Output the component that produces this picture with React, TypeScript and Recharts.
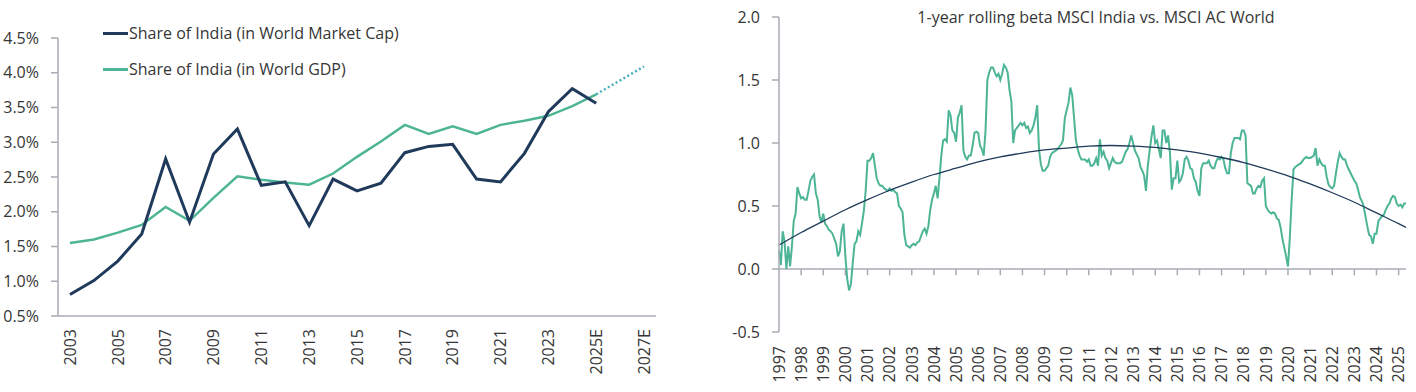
import React from "react";
import { LineChart, Line, XAxis, YAxis, Legend, ReferenceLine } from "recharts";

const FONT = "'Open Sans', 'DejaVu Sans', sans-serif";
const TEXT = "#363636";
const AXIS = "#a9abb5";
const NAVY = "#1f3a5a";
const TEAL = "#4db596";
const DOTS = "#46b1bc";

// ---- left chart: India's share of world market cap / GDP (%)
const YEARS = [2003, 2004, 2005, 2006, 2007, 2008, 2009, 2010, 2011, 2012, 2013, 2014, 2015, 2016, 2017, 2018, 2019, 2020, 2021, 2022, 2023, 2024, 2025, 2026, 2027];
const MARKET_CAP = [0.81, 1.01, 1.29, 1.68, 2.76, 1.85, 2.83, 3.19, 2.38, 2.43, 1.8, 2.47, 2.3, 2.41, 2.85, 2.94, 2.97, 2.47, 2.43, 2.84, 3.44, 3.77, 3.56];
const GDP = [1.55, 1.6, 1.7, 1.81, 2.07, 1.87, 2.2, 2.51, 2.46, 2.42, 2.39, 2.55, 2.79, 3.01, 3.25, 3.12, 3.23, 3.12, 3.25, 3.31, 3.38, 3.52, 3.69];
const GDP_PROJ_YEARS = [2025, 2026, 2027];
const GDP_PROJ = [3.69, 3.89, 4.09];
const LEFT_TICKS = [2003, 2005, 2007, 2009, 2011, 2013, 2015, 2017, 2019, 2021, 2023, 2025, 2027];
const LEFT_TICK_LABELS = ["2003", "2005", "2007", "2009", "2011", "2013", "2015", "2017", "2019", "2021", "2023", "2025E", "2027E"];
const PCT_TICKS = [0.5, 1, 1.5, 2, 2.5, 3, 3.5, 4, 4.5];

// ---- right chart: 1-year rolling beta, monthly readings
const BETA_1997 = [0.15, 0.03, 0.3, 0.22, 0.0, 0.18, 0.02, 0.18, 0.38, 0.44, 0.65, 0.6];
const BETA_1998 = [0.56, 0.57, 0.55, 0.55, 0.62, 0.7, 0.73, 0.75, 0.6, 0.55, 0.42, 0.37];
const BETA_1999 = [0.44, 0.36, 0.34, 0.31, 0.3, 0.28, 0.24, 0.2, 0.1, 0.14, 0.3, 0.36];
const BETA_2000 = [0.1, -0.08, -0.17, -0.12, 0.05, 0.2, 0.22, 0.3, 0.27, 0.36, 0.46, 0.62];
const BETA_2001 = [0.86, 0.86, 0.88, 0.92, 0.82, 0.72, 0.68, 0.66, 0.66, 0.64, 0.63, 0.62];
const BETA_2002 = [0.64, 0.62, 0.63, 0.61, 0.6, 0.5, 0.48, 0.45, 0.27, 0.19, 0.18, 0.17];
const BETA_2003 = [0.19, 0.2, 0.19, 0.21, 0.22, 0.26, 0.3, 0.32, 0.28, 0.34, 0.47, 0.55];
const BETA_2004 = [0.6, 0.66, 0.56, 0.72, 0.9, 1.02, 1.03, 1.01, 1.26, 1.22, 1.1, 1.08];
const BETA_2005 = [1.01, 1.2, 1.24, 1.3, 0.94, 0.89, 0.87, 0.9, 0.9, 0.98, 1.08, 1.09];
const BETA_2006 = [1.08, 0.98, 0.95, 0.9, 1.1, 1.5, 1.56, 1.6, 1.6, 1.56, 1.53, 1.55];
const BETA_2007 = [1.5, 1.55, 1.62, 1.6, 1.56, 1.42, 1.33, 1.0, 1.1, 1.12, 1.14, 1.16];
const BETA_2008 = [1.14, 1.16, 1.12, 1.13, 1.08, 1.1, 1.14, 1.2, 1.3, 0.95, 0.83, 0.78];
const BETA_2009 = [0.78, 0.8, 0.82, 0.89, 0.92, 0.93, 0.94, 0.95, 0.97, 0.99, 1.02, 1.2];
const BETA_2010 = [1.26, 1.32, 1.44, 1.38, 1.2, 1.02, 0.95, 0.9, 0.87, 0.87, 0.87, 0.85];
const BETA_2011 = [0.87, 0.82, 0.82, 0.84, 0.88, 0.82, 1.03, 0.9, 0.93, 0.88, 0.86, 0.8];
const BETA_2012 = [0.84, 0.88, 0.85, 0.84, 0.84, 0.84, 0.85, 0.89, 0.93, 0.95, 1.0, 1.06];
const BETA_2013 = [1.0, 0.94, 0.91, 0.88, 0.81, 0.78, 0.74, 0.62, 0.82, 0.94, 1.05, 1.14];
const BETA_2014 = [1.0, 1.02, 0.95, 0.88, 1.1, 1.1, 1.0, 1.06, 0.92, 0.63, 0.72, 0.72];
const BETA_2015 = [0.86, 0.69, 0.71, 0.76, 0.87, 0.89, 0.86, 0.8, 0.79, 0.72, 0.69, 0.62];
const BETA_2016 = [0.58, 0.8, 0.84, 0.84, 0.84, 0.86, 0.82, 0.8, 0.8, 0.85, 0.88, 0.87];
const BETA_2017 = [0.89, 0.87, 0.8, 0.76, 0.76, 0.92, 1.0, 1.04, 1.04, 1.04, 1.03, 1.1];
const BETA_2018 = [1.1, 1.06, 0.68, 0.67, 0.66, 0.6, 0.6, 0.64, 0.66, 0.65, 0.7, 0.72];
const BETA_2019 = [0.5, 0.47, 0.45, 0.44, 0.45, 0.44, 0.4, 0.39, 0.33, 0.24, 0.17, 0.1];
const BETA_2020 = [0.02, 0.25, 0.55, 0.79, 0.81, 0.82, 0.83, 0.84, 0.86, 0.88, 0.89, 0.88];
const BETA_2021 = [0.88, 0.89, 0.9, 0.96, 0.82, 0.87, 0.84, 0.82, 0.82, 0.73, 0.67, 0.65];
const BETA_2022 = [0.64, 0.66, 0.76, 0.85, 0.92, 0.89, 0.87, 0.87, 0.82, 0.79, 0.76, 0.73];
const BETA_2023 = [0.7, 0.68, 0.63, 0.57, 0.54, 0.5, 0.42, 0.34, 0.27, 0.26, 0.2, 0.28];
const BETA_2024 = [0.28, 0.38, 0.4, 0.42, 0.43, 0.47, 0.5, 0.52, 0.56, 0.58, 0.57, 0.52];
const BETA_2025 = [0.5, 0.51, 0.49, 0.52];

const BETA_YEARS = [
  BETA_1997, BETA_1998, BETA_1999, BETA_2000, BETA_2001, BETA_2002, BETA_2003, BETA_2004,
  BETA_2005, BETA_2006, BETA_2007, BETA_2008, BETA_2009, BETA_2010, BETA_2011, BETA_2012,
  BETA_2013, BETA_2014, BETA_2015, BETA_2016, BETA_2017, BETA_2018, BETA_2019, BETA_2020,
  BETA_2021, BETA_2022, BETA_2023, BETA_2024, BETA_2025,
];
// fitted trend, read at the start of each year, plus the last observation
const TREND = [0.19, 0.29, 0.38, 0.47, 0.55, 0.625, 0.69, 0.75, 0.8, 0.85, 0.89, 0.92, 0.945, 0.96, 0.975, 0.98, 0.975, 0.965, 0.945, 0.92, 0.885, 0.845, 0.795, 0.74, 0.675, 0.605, 0.53, 0.445, 0.36];
const TREND_END = 0.33;
const FIRST_YEAR = 1997;
const RIGHT_TICKS = [1997, 1998, 1999, 2000, 2001, 2002, 2003, 2004, 2005, 2006, 2007, 2008, 2009, 2010, 2011, 2012, 2013, 2014, 2015, 2016, 2017, 2018, 2019, 2020, 2021, 2022, 2023, 2024, 2025];
const BETA_TICKS = [-0.5, 0, 0.5, 1, 1.5, 2];

const shareData = YEARS.map((year, i) => {
  const p = GDP_PROJ_YEARS.indexOf(year);
  return {
    year,
    mcap: i < MARKET_CAP.length ? MARKET_CAP[i] : null,
    gdp: i < GDP.length ? GDP[i] : null,
    proj: p >= 0 ? GDP_PROJ[p] : null,
  };
});

const betaData: { t: number; beta: number; trend: number | null }[] = [];
BETA_YEARS.forEach((vals, yi) => {
  vals.forEach((v, m) => {
    betaData.push({ t: FIRST_YEAR + yi + m / 12, beta: v, trend: m === 0 ? TREND[yi] : null });
  });
});
betaData.push({
  t: betaData[betaData.length - 1].t + 1 / 12,
  beta: BETA_2025[BETA_2025.length - 1],
  trend: TREND_END,
});
betaData[betaData.length - 2].beta = betaData[betaData.length - 2].beta;

function RotatedTick(props: any) {
  const { x, y, payload, offset, labels, ticks } = props;
  const idx = ticks ? ticks.indexOf(payload.value) : -1;
  const label = labels && idx >= 0 ? labels[idx] : String(payload.value);
  const ty = y + offset;
  return (
    <text
      x={x}
      y={ty}
      transform={`rotate(-90, ${x}, ${ty})`}
      textAnchor="end"
      dy="0.36em"
      fill={TEXT}
      fontSize={16}
      fontFamily={FONT}
    >
      {label}
    </text>
  );
}

function ShareLegend() {
  const items = [
    { name: "Share of India (in World Market Cap)", color: NAVY },
    { name: "Share of India (in World GDP)", color: TEAL },
  ];
  return (
    <div style={{ fontFamily: FONT, fontSize: 16, color: TEXT }}>
      {items.map((it) => (
        <div key={it.name} style={{ display: "flex", alignItems: "center", height: 36 }}>
          <span style={{ display: "inline-block", width: 25, height: 3, background: it.color }} />
          <span style={{ marginLeft: 1 }}>{it.name}</span>
        </div>
      ))}
    </div>
  );
}

function ShareChart() {
  return (
    <LineChart width={680} height={392} data={shareData} margin={{ top: 38, right: 24, bottom: 0, left: 0 }}>
      <XAxis
        dataKey="year"
        type="number"
        domain={[2002.5, 2027.5]}
        ticks={LEFT_TICKS}
        interval={0}
        height={76}
        axisLine={{ stroke: AXIS, strokeWidth: 1.5 }}
        tickLine={false}
        tickSize={0}
        tickMargin={0}
        tick={(p: any) => <RotatedTick {...p} offset={13} labels={LEFT_TICK_LABELS} ticks={LEFT_TICKS} />}
      />
      <YAxis
        type="number"
        domain={[0.5, 4.5]}
        ticks={PCT_TICKS}
        interval={0}
        width={58}
        axisLine={{ stroke: AXIS, strokeWidth: 1.5 }}
        tickLine={{ stroke: AXIS, strokeWidth: 1.5 }}
        tickSize={7}
        tickMargin={12}
        tickFormatter={(v: number) => `${v.toFixed(1)}%`}
        tick={{ fill: TEXT, fontSize: 16, fontFamily: FONT }}
      />
      <Legend
        layout="vertical"
        align="center"
        verticalAlign="middle"
        content={() => <ShareLegend />}
        wrapperStyle={{ left: 103, top: 15, width: 340 }}
      />
      <Line dataKey="proj" stroke={DOTS} strokeWidth={2.5} strokeDasharray="2 2.5" dot={false} isAnimationActive={false} />
      <Line dataKey="gdp" stroke={TEAL} strokeWidth={2.5} dot={false} isAnimationActive={false} />
      <Line dataKey="mcap" stroke={NAVY} strokeWidth={3} dot={false} isAnimationActive={false} />
    </LineChart>
  );
}

function BetaChart() {
  return (
    <LineChart width={716} height={392} data={betaData} margin={{ top: 17, right: 10, bottom: 0, left: 0 }}>
      <XAxis
        dataKey="t"
        type="number"
        domain={[1997, betaData[betaData.length - 1].t]}
        ticks={RIGHT_TICKS}
        interval={0}
        height={60}
        axisLine={false}
        tickLine={false}
        tickSize={0}
        tickMargin={0}
        tick={(p: any) => <RotatedTick {...p} offset={14} />}
      />
      <YAxis
        type="number"
        domain={[-0.5, 2]}
        ticks={BETA_TICKS}
        interval={0}
        width={79}
        axisLine={{ stroke: AXIS, strokeWidth: 1.5 }}
        tickLine={{ stroke: AXIS, strokeWidth: 1.5 }}
        tickSize={7}
        tickMargin={12}
        tickFormatter={(v: number) => v.toFixed(1)}
        tick={{ fill: TEXT, fontSize: 16, fontFamily: FONT }}
      />
      <ReferenceLine y={0} stroke={AXIS} strokeWidth={1.5} />
      {RIGHT_TICKS.slice(1).map((yr) => (
        <ReferenceLine
          key={yr}
          segment={[{ x: yr, y: 0 }, { x: yr, y: -0.05 }]}
          stroke={AXIS}
          strokeWidth={1.5}
        />
      ))}
      <Line dataKey="beta" type="linear" stroke={TEAL} strokeWidth={2} dot={false} isAnimationActive={false} />
      <Line dataKey="trend" type="monotone" connectNulls stroke={NAVY} strokeWidth={1.3} dot={false} isAnimationActive={false} />
    </LineChart>
  );
}

export default function App() {
  return (
    <div style={{ position: "fixed", left: 0, top: 0, width: 1416, height: 392, background: "#fff", fontFamily: FONT }}>
      <div style={{ position: "absolute", left: 0, top: 0 }}>
        <ShareChart />
      </div>
      <div style={{ position: "absolute", left: 700, top: 0 }}>
        <BetaChart />
      </div>
      <div
        style={{
          position: "absolute",
          left: 800,
          width: 592,
          top: 6,
          textAlign: "center",
          fontSize: 16,
          color: TEXT,
          fontFamily: FONT,
        }}
      >
        1-year rolling beta MSCI India vs. MSCI AC World
      </div>
    </div>
  );
}
